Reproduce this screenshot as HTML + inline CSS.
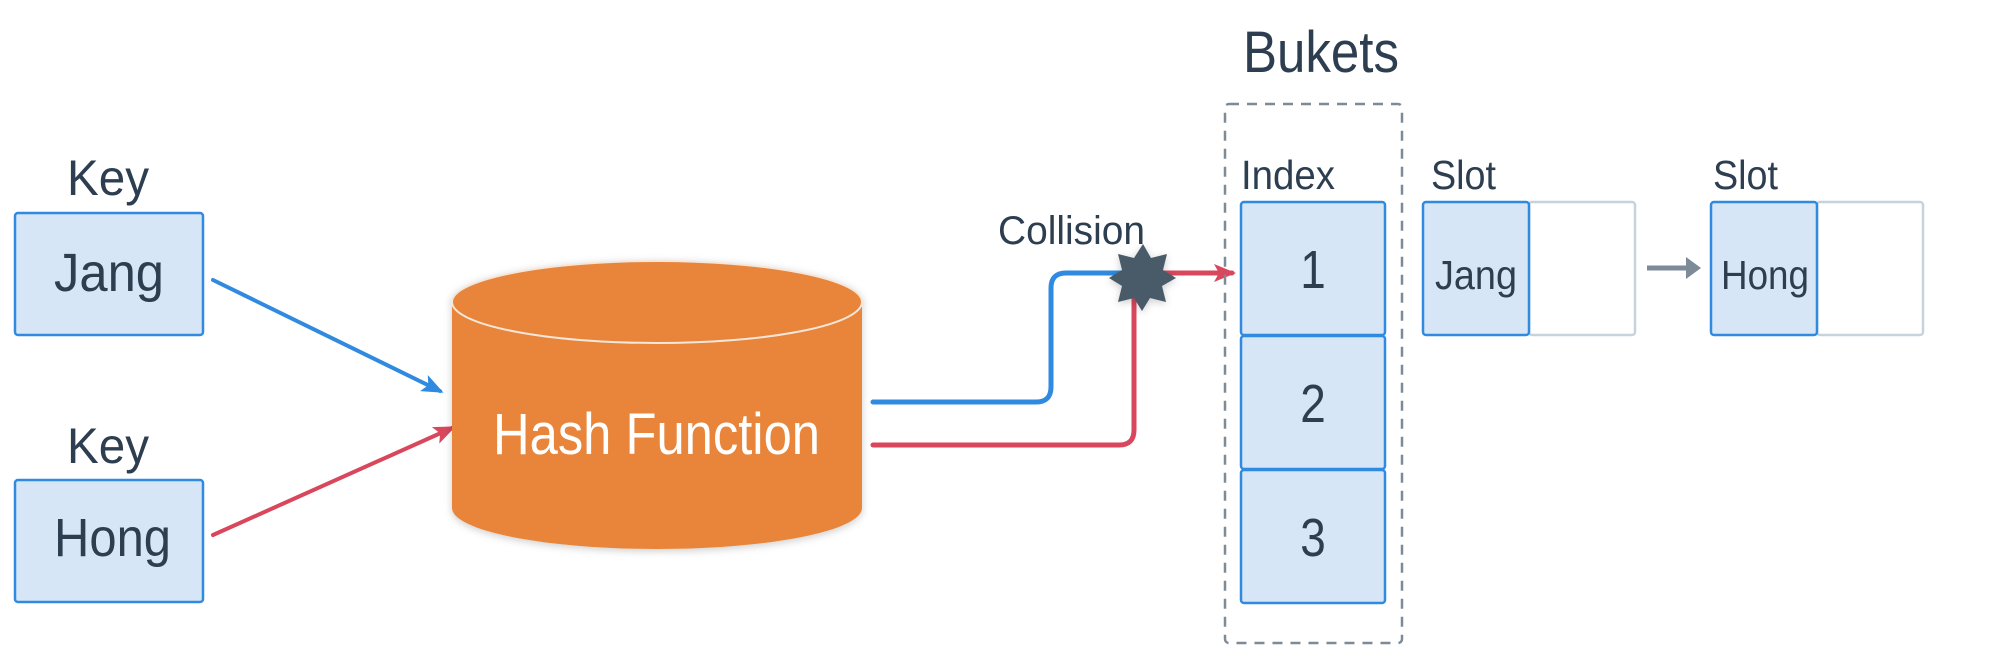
<!DOCTYPE html>
<html><head><meta charset="utf-8"><style>
html,body{margin:0;padding:0;background:#fff;}
svg{display:block;}
text{font-family:"Liberation Sans Narrow","Liberation Sans",sans-serif;fill:#2c3e50;}
</style></head><body>
<svg width="2000" height="660" viewBox="0 0 2000 660" xmlns="http://www.w3.org/2000/svg">
<defs>
<marker id="ab" markerWidth="22" markerHeight="18" refX="18" refY="9" orient="auto" markerUnits="userSpaceOnUse"><path d="M0,0 L22,9 L0,18 L5,9 z" fill="#2f8ae0"/></marker>
<marker id="ar" markerWidth="22" markerHeight="18" refX="18" refY="9" orient="auto" markerUnits="userSpaceOnUse"><path d="M0,0 L22,9 L0,18 L5,9 z" fill="#d9475c"/></marker>
<filter id="sh" x="-20%" y="-20%" width="140%" height="140%"><feDropShadow dx="0" dy="2" stdDeviation="4" flood-opacity="0.2"/></filter>
</defs>
<!-- Keys -->
<text x="67" y="195" font-size="50" textLength="82" lengthAdjust="spacingAndGlyphs">Key</text>
<rect x="15" y="213" width="188" height="122" rx="3" fill="#d6e6f6" stroke="#2f8ae0" stroke-width="2.5"/>
<text x="54" y="291" font-size="54" textLength="110" lengthAdjust="spacingAndGlyphs">Jang</text>
<text x="67" y="463" font-size="50" textLength="82" lengthAdjust="spacingAndGlyphs">Key</text>
<rect x="15" y="480" width="188" height="122" rx="3" fill="#d6e6f6" stroke="#2f8ae0" stroke-width="2.5"/>
<text x="54" y="556" font-size="54" textLength="117" lengthAdjust="spacingAndGlyphs">Hong</text>
<!-- arrows to cylinder -->
<line x1="213" y1="280" x2="440" y2="391" stroke="#2f8ae0" stroke-width="4" stroke-linecap="round" marker-end="url(#ab)"/>
<line x1="213" y1="535" x2="452" y2="428" stroke="#d9475c" stroke-width="4" stroke-linecap="round" marker-end="url(#ar)"/>
<!-- cylinder -->
<g filter="url(#sh)">
<path d="M452,302 L452,508 A205,41 0 0 0 862,508 L862,302 Z" fill="#e8853a"/>
<ellipse cx="657" cy="302" rx="205" ry="41" fill="#e8853a" stroke="#f5e6da" stroke-width="2"/>
</g>
<text x="493" y="454" font-size="58" textLength="327" lengthAdjust="spacingAndGlyphs" style="fill:#fff">Hash Function</text>
<!-- paths -->
<path d="M873,402 L1036,402 Q1051,402 1051,387 L1051,288 Q1051,273 1066,273 L1130,273" fill="none" stroke="#2f8ae0" stroke-width="5" stroke-linecap="round"/>
<path d="M873,445 L1119,445 Q1134,445 1134,430 L1134,273 L1232,273" fill="none" stroke="#d9475c" stroke-width="5" stroke-linecap="round" marker-end="url(#ar)"/>
<text x="998" y="244" font-size="40" textLength="147" lengthAdjust="spacingAndGlyphs">Collision</text>
<polygon fill="#4a5a68" filter="url(#sh)" points="1143,244 1151,258 1167,254 1163,270 1176,278 1162,286 1166,302 1150,298 1142,311 1134,298 1118,302 1122,286 1109,278 1122,270 1118,254 1134,258"/>
<!-- Bukets -->
<text x="1243" y="72" font-size="58" textLength="156" lengthAdjust="spacingAndGlyphs">Bukets</text>
<rect x="1225" y="104" width="177" height="539" rx="4" fill="none" stroke="#7d8a97" stroke-width="2.5" stroke-dasharray="10,8"/>
<text x="1241" y="189" font-size="41" textLength="94" lengthAdjust="spacingAndGlyphs">Index</text>
<rect x="1241" y="202" width="144" height="133" rx="3" fill="#d6e6f6" stroke="#2f8ae0" stroke-width="2.5"/>
<rect x="1241" y="336" width="144" height="133" rx="3" fill="#d6e6f6" stroke="#2f8ae0" stroke-width="2.5"/>
<rect x="1241" y="470" width="144" height="133" rx="3" fill="#d6e6f6" stroke="#2f8ae0" stroke-width="2.5"/>
<text x="1313" y="288" font-size="54" text-anchor="middle" transform="translate(1313,0) scale(0.85,1) translate(-1313,0)">1</text>
<text x="1313" y="422" font-size="54" text-anchor="middle" transform="translate(1313,0) scale(0.85,1) translate(-1313,0)">2</text>
<text x="1313" y="556" font-size="54" text-anchor="middle" transform="translate(1313,0) scale(0.85,1) translate(-1313,0)">3</text>
<!-- slots -->
<text x="1431" y="189" font-size="41" textLength="65" lengthAdjust="spacingAndGlyphs">Slot</text>
<rect x="1529" y="202" width="106" height="133" rx="3" fill="#fff" stroke="#c8d2dc" stroke-width="2.5"/>
<rect x="1423" y="202" width="106" height="133" rx="3" fill="#d6e6f6" stroke="#2f8ae0" stroke-width="2.5"/>
<text x="1435" y="289" font-size="41" textLength="82" lengthAdjust="spacingAndGlyphs">Jang</text>
<line x1="1647" y1="268" x2="1690" y2="268" stroke="#7d8a97" stroke-width="5"/>
<path d="M1686,257 L1701,268 L1686,279 z" fill="#7d8a97"/>
<text x="1713" y="189" font-size="41" textLength="65" lengthAdjust="spacingAndGlyphs">Slot</text>
<rect x="1817" y="202" width="106" height="133" rx="3" fill="#fff" stroke="#c8d2dc" stroke-width="2.5"/>
<rect x="1711" y="202" width="106" height="133" rx="3" fill="#d6e6f6" stroke="#2f8ae0" stroke-width="2.5"/>
<text x="1721" y="289" font-size="41" textLength="88" lengthAdjust="spacingAndGlyphs">Hong</text>
</svg>
</body></html>
